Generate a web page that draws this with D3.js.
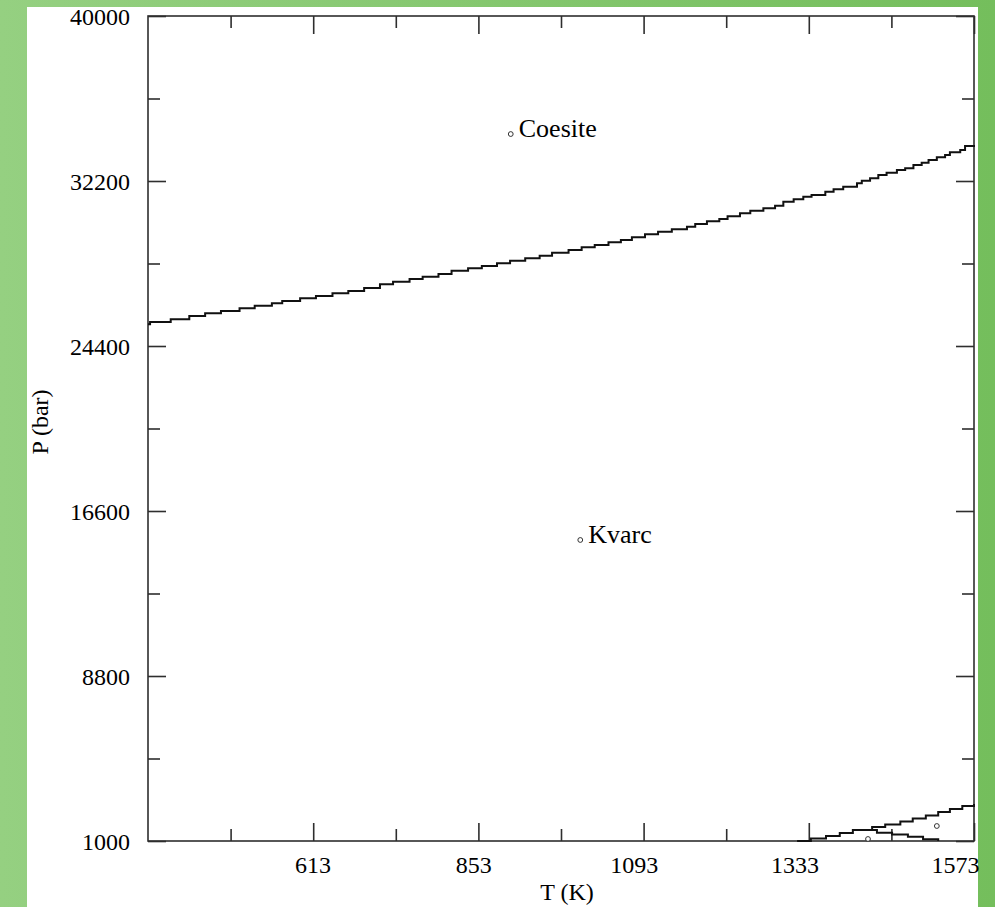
<!DOCTYPE html>
<html>
<head>
<meta charset="utf-8">
<script src="https://cdn.jsdelivr.net/npm/d3@7"></script>
<style>
  html, body { margin: 0; padding: 0; overflow: hidden; background: #fff; }
  svg { display: block; }
</style>
</head>
<body>
<svg id="chart" width="995" height="907"></svg>
<script>
// ---- Tick values -------------------------------------------------------
const tempMajorTicks = [613, 853, 1093, 1333, 1573];
const tempMinorTicks = [493, 733, 973, 1213, 1453];
const pressMajorTicks = [1000, 8800, 16600, 24400, 32200, 40000];
const pressMinorTicks = [4900, 12700, 20500, 28300, 36100];

// ---- Quartz / coesite boundary (stepped), T in K, P in bar -------------
const coesiteBoundaryT = [373, 376, 406, 433, 456, 479, 506, 528, 553, 568, 594, 617, 641, 664, 687, 710,
  729, 753, 772, 795, 814, 838, 858, 880, 899, 921, 942, 960, 984, 1003, 1022, 1042, 1060, 1076, 1095,
  1114, 1134, 1156, 1168, 1185, 1203, 1215, 1233, 1248, 1267, 1284, 1296, 1311, 1325, 1337, 1357, 1369,
  1383, 1403, 1410, 1422, 1434, 1446, 1461, 1473, 1485, 1497, 1507, 1519, 1531, 1538, 1553, 1560, 1573];
const coesiteBoundaryP = [25426, 25535, 25662, 25818, 25946, 26055, 26182, 26305, 26418, 26527, 26655,
  26764, 26891, 27000, 27142, 27317, 27440, 27567, 27676, 27804, 27960, 28073, 28182, 28310, 28432, 28546,
  28669, 28811, 28938, 29066, 29174, 29302, 29411, 29538, 29680, 29803, 29916, 30039, 30167, 30295, 30404,
  30531, 30673, 30796, 30909, 31032, 31222, 31335, 31458, 31538, 31694, 31808, 31931, 32091, 32214, 32328,
  32484, 32593, 32720, 32800, 32956, 33065, 33193, 33320, 33429, 33557, 33665, 33855, 33902];

// ---- Low-pressure, high-temperature boundaries -------------------------
const upperLowPT = [1316, 1336, 1358, 1378, 1397, 1425, 1444, 1466, 1484, 1503, 1521, 1538, 1556, 1573];
const upperLowPP = [1000, 1118, 1236, 1378, 1520, 1662, 1780, 1922, 2064, 2206, 2371, 2513, 2655, 2749];
const lowerLowPT = [1425, 1432, 1454, 1477, 1499, 1521];
const lowerLowPP = [1520, 1392, 1307, 1203, 1080, 1000];

// ---- Phase field labels ------------------------------------------------
const phaseNames = ["Coesite", "Kvarc", "", ""];
const phaseT = [900, 1001, 1419, 1519];
const phaseP = [34420, 15230, 1095, 1709];

// ---- Layout ------------------------------------------------------------
const W = 995, H = 907;
const frame = { left: 148, right: 974, top: 16, bottom: 841 };
const serif = "'Liberation Serif', 'Times New Roman', Times, serif";
const axisColor = "#2e2e2e";

const svg = d3.select("#chart");

// green page backdrop with a white sheet on top
const defs = svg.append("defs");
const grad = defs.append("linearGradient").attr("id", "bg").attr("x1", "0").attr("x2", "1").attr("y1", "0").attr("y2", "0");
grad.append("stop").attr("offset", "0%").attr("stop-color", "#95d081");
grad.append("stop").attr("offset", "100%").attr("stop-color", "#74be5c");
svg.append("rect").attr("width", W).attr("height", H).attr("fill", "url(#bg)");
svg.append("rect").attr("x", 27).attr("y", 7).attr("width", 951).attr("height", H - 7).attr("fill", "#fff");

const x = d3.scaleLinear().domain([373, 1573]).range([frame.left, frame.right]);
const y = d3.scaleLinear().domain([1000, 40000]).range([frame.bottom, frame.top]);
// tick labels along T are spread a little narrower than the ticks themselves
const xLabel = d3.scaleLinear().domain([373, 1573]).range([152, 955]);

function styleAxis(g) {
  g.select(".domain").remove();
  g.selectAll(".tick line").attr("stroke", axisColor).attr("stroke-width", 1.6);
  g.selectAll("text").attr("font-family", serif).attr("font-size", 24).attr("fill", "#000");
}

// bottom axis
svg.append("g").attr("transform", `translate(0,${frame.bottom})`)
  .call(d3.axisBottom(x).tickValues(tempMinorTicks).tickSize(-12).tickFormat(""))
  .call(styleAxis);
svg.append("g").attr("transform", `translate(0,${frame.bottom})`)
  .call(d3.axisBottom(x).tickValues(tempMajorTicks).tickSize(-18).tickFormat(d3.format("d")))
  .call(styleAxis)
  .call(g => g.selectAll("text").attr("y", 32).attr("dy", 0).attr("x", d => xLabel(d) - x(d)));

// top axis
svg.append("g").attr("transform", `translate(0,${frame.top})`)
  .call(d3.axisTop(x).tickValues(tempMinorTicks).tickSize(-12).tickFormat(""))
  .call(styleAxis);
svg.append("g").attr("transform", `translate(0,${frame.top})`)
  .call(d3.axisTop(x).tickValues(tempMajorTicks).tickSize(-18).tickFormat(""))
  .call(styleAxis);

// left axis
svg.append("g").attr("transform", `translate(${frame.left},0)`)
  .call(d3.axisLeft(y).tickValues(pressMinorTicks).tickSize(-12).tickFormat(""))
  .call(styleAxis);
svg.append("g").attr("transform", `translate(${frame.left},0)`)
  .call(d3.axisLeft(y).tickValues(pressMajorTicks).tickSize(-18).tickFormat(d3.format("d")))
  .call(styleAxis)
  .call(g => g.selectAll("text").attr("x", -18).attr("dy", "0.35em"));

// right axis
svg.append("g").attr("transform", `translate(${frame.right},0)`)
  .call(d3.axisRight(y).tickValues(pressMinorTicks).tickSize(-12).tickFormat(""))
  .call(styleAxis);
svg.append("g").attr("transform", `translate(${frame.right},0)`)
  .call(d3.axisRight(y).tickValues(pressMajorTicks).tickSize(-18).tickFormat(""))
  .call(styleAxis);

// plot frame
svg.append("rect")
  .attr("x", frame.left).attr("y", frame.top)
  .attr("width", frame.right - frame.left).attr("height", frame.bottom - frame.top)
  .attr("fill", "none").attr("stroke", axisColor).attr("stroke-width", 1.6);

// phase boundaries
const stepLine = d3.line().x(d => x(d[0])).y(d => y(d[1])).curve(d3.curveStepAfter);
const boundaries = [
  d3.zip(coesiteBoundaryT, coesiteBoundaryP),
  d3.zip(upperLowPT, upperLowPP),
  d3.zip(lowerLowPT, lowerLowPP)
];
svg.append("g").selectAll("path").data(boundaries).join("path")
  .attr("d", stepLine)
  .attr("fill", "none").attr("stroke", "#111").attr("stroke-width", 2);

// phase field markers and names
const phases = phaseNames.map((name, i) => ({ name, t: phaseT[i], p: phaseP[i] }));
const pg = svg.append("g");
pg.selectAll("circle").data(phases).join("circle")
  .attr("cx", d => x(d.t)).attr("cy", d => y(d.p)).attr("r", 2.4)
  .attr("fill", "#fff").attr("stroke", "#333").attr("stroke-width", 1);
pg.selectAll("text").data(phases.filter(d => d.name)).join("text")
  .attr("x", d => x(d.t) + 8).attr("y", d => y(d.p) + 3)
  .attr("font-family", serif).attr("font-size", 26).attr("fill", "#000")
  .text(d => d.name);

// axis titles
svg.append("text").attr("x", 567).attr("y", 900).attr("text-anchor", "middle")
  .attr("font-family", serif).attr("font-size", 24).attr("fill", "#000").text("T (K)");
svg.append("text").attr("transform", "translate(48,422) rotate(-90)").attr("text-anchor", "middle")
  .attr("font-family", serif).attr("font-size", 24).attr("fill", "#000").text("P (bar)");
</script>
</body>
</html>
